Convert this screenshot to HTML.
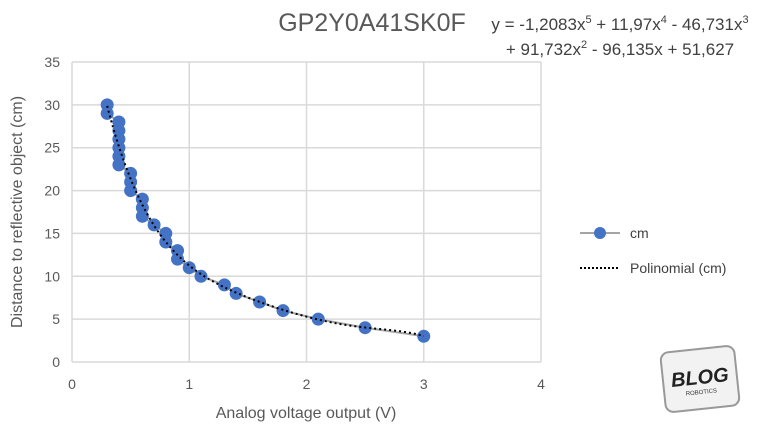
<!DOCTYPE html>
<html><head><meta charset="utf-8"><style>
body{margin:0;background:#fff;font-family:"Liberation Sans",sans-serif;}
svg{display:block}
text{font-family:"Liberation Sans",sans-serif;}
</style></head><body>
<svg id="c" width="771" height="435" viewBox="0 0 771 435">
<rect width="771" height="435" fill="#fff"/>
<text x="372" y="31" font-size="25" fill="#595959" text-anchor="middle">GP2Y0A41SK0F</text>
<text x="620" y="30" font-size="17" fill="#404040" text-anchor="middle">y = -1,2083x<tspan font-size="11" dy="-7">5</tspan><tspan dy="7"> + 11,97x</tspan><tspan font-size="11" dy="-7">4</tspan><tspan dy="7"> - 46,731x</tspan><tspan font-size="11" dy="-7">3</tspan></text>
<text x="620" y="55" font-size="17" fill="#404040" text-anchor="middle">+ 91,732x<tspan font-size="11" dy="-7">2</tspan><tspan dy="7"> - 96,135x + 51,627</tspan></text>
<g id="grid"></g>
<g id="ticks"></g>
<text x="306" y="418" font-size="16" fill="#595959" text-anchor="middle">Analog voltage output (V)</text>
<text transform="translate(22,212) rotate(-90)" font-size="16" fill="#595959" text-anchor="middle">Distance to reflective object (cm)</text>
<g id="series"></g>
<g>
<g><line x1="580" y1="233" x2="620" y2="233" stroke="#a5a5a5" stroke-width="2"/><circle cx="600" cy="233" r="6" fill="#4472c4"/><text x="630" y="238" font-size="14" fill="#404040">cm</text></g>
<g><line x1="580" y1="268" x2="620" y2="268" stroke="#000" stroke-width="2" stroke-dasharray="2,2"/><text x="630" y="273" font-size="14" fill="#404040">Polinomial (cm)</text></g>
</g>
<g>
<rect x="663" y="349" width="74" height="60" rx="8" fill="#f2f2f2" stroke="#999" stroke-width="2" transform="rotate(-6 700 379)"/>
<text x="700" y="384" font-size="20" font-weight="bold" font-style="italic" fill="#222" text-anchor="middle" transform="rotate(-6 700 379)">BLOG</text>
<text x="700" y="394" font-size="6" fill="#333" text-anchor="middle" transform="rotate(-6 700 379)">ROBOTICS</text>
</g>
</svg>
<script>
const xTicks=[0,1,2,3,4];
const yTicks=[0,5,10,15,20,25,30,35];
const xs=[0.3,0.3,0.4,0.4,0.4,0.4,0.4,0.4,0.5,0.5,0.5,0.6,0.6,0.6,0.7,0.8,0.8,0.9,0.9,1.0,1.1,1.3,1.4,1.6,1.8,2.1,2.5,3.0];
const ys=[30,29,28,27,26,25,24,23,22,21,20,19,18,17,16,15,14,13,12,11,10,9,8,7,6,5,4,3];
const coef=[-1.2083,11.97,-46.731,91.732,-96.135,51.627];
const X=v=>72+v*117.25, Y=v=>362-v*(300/35);
const NS="http://www.w3.org/2000/svg";
function mk(t,a,p){const e=document.createElementNS(NS,t);for(const k in a)e.setAttribute(k,a[k]);p.appendChild(e);return e;}
const g=document.getElementById('grid'),tk=document.getElementById('ticks'),s=document.getElementById('series');
yTicks.forEach(v=>{const l=mk('line',{x1:X(0),x2:X(4),y1:Y(v),y2:Y(v),stroke:'#d9d9d9','stroke-width':1.5},g);


const t=mk('text',{x:60,y:Y(v)+5,'font-size':14,fill:'#595959','text-anchor':'end'},tk);t.textContent=v;

});
xTicks.forEach(v=>{const l=mk('line',{x1:X(v),x2:X(v),y1:Y(0),y2:Y(35),stroke:'#d9d9d9','stroke-width':1.5},g);


const t=mk('text',{x:X(v),y:389,'font-size':14,fill:'#595959','text-anchor':'middle'},tk);t.textContent=v;

});
const line=mk('polyline',{points:xs.map((x,i)=>X(x)+','+Y(ys[i])).join(' '),fill:'none',stroke:'#a5a5a5','stroke-width':2},s);


xs.forEach((x,i)=>{const c=mk('circle',{cx:X(x),cy:Y(ys[i]),r:6.5,fill:'#4472c4'},s);

});
const poly=x=>coef.reduce((a,c)=>a*x+c,0);
const pts=[];const x0=Math.min(...xs),x1=Math.max(...xs);
for(let i=0;i<=200;i++){const x=x0+(x1-x0)*i/200;pts.push(X(x)+','+Y(poly(x)));}
const tr=mk('polyline',{points:pts.join(' '),fill:'none',stroke:'#000','stroke-width':2,'stroke-dasharray':'2,3'},s);


</script>
</body></html>
